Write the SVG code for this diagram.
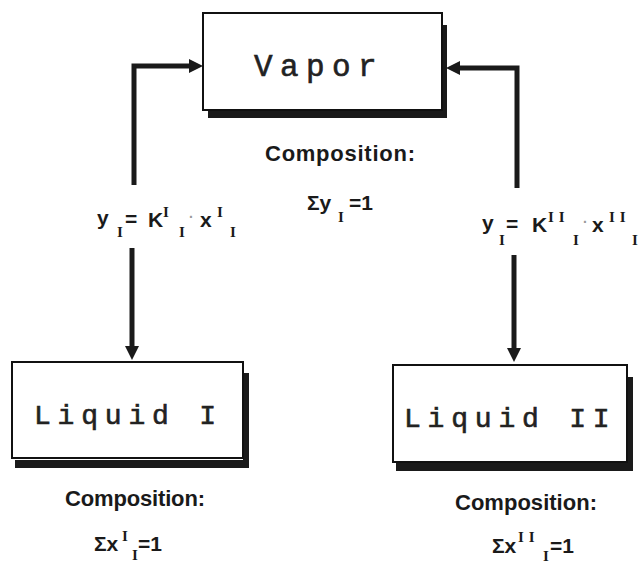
<svg xmlns="http://www.w3.org/2000/svg" width="641" height="564" viewBox="0 0 641 564">
<style>
.box{fill:#fff;stroke:#111;stroke-width:2}
.sh{fill:#1a1a1a}
.big{font-family:"Liberation Mono","DejaVu Sans Mono",monospace;fill:#222;stroke:#222;stroke-width:0.6}
.lbl{font-family:"Liberation Sans","DejaVu Sans",sans-serif;font-weight:bold;fill:#1a1a1a;font-size:21px}
.cmp{font-family:"Liberation Sans","DejaVu Sans",sans-serif;font-weight:bold;fill:#1a1a1a;font-size:22px}
.ii{font-family:"Liberation Serif","DejaVu Serif",serif;font-weight:bold;font-size:15px}
.dot{fill:#999;font-size:14px}
.conn{fill:none;stroke:#1a1a1a;stroke-width:5;stroke-linejoin:miter;stroke-linecap:butt}
</style>
<defs>
<marker id="ah" markerUnits="userSpaceOnUse" viewBox="0 0 14 14" markerWidth="14" markerHeight="14" refX="0" refY="7" orient="auto">
<path d="M0,0 L14,7 L0,14 z" fill="#1a1a1a"/>
</marker>
</defs>

<g id="connectors">
<path class="conn" d="M134,185 V66 H189" marker-end="url(#ah)"/>
<path class="conn" d="M517,188 V68 H460" marker-end="url(#ah)"/>
<path class="conn" d="M132,248 V346" marker-end="url(#ah)"/>
<path class="conn" d="M514,255 V348" marker-end="url(#ah)"/>
</g>

<g id="vapor">
<rect class="sh" x="442" y="25" width="5" height="93"/>
<rect class="sh" x="208" y="111" width="239" height="7"/>
<rect class="box" x="203" y="13" width="239" height="97"/>
<text class="big" x="254" y="76" font-size="31" letter-spacing="7.4">Vapor</text>
</g>

<g id="vapor-composition">
<text class="cmp" x="265" y="161" textLength="150">Composition:</text>
<text class="lbl" font-size="20" y="210"><tspan x="307">Σy</tspan><tspan class="ii" x="338" y="222">I</tspan><tspan x="349" y="210">=1</tspan></text>
</g>

<g id="liquid1">
<rect class="sh" x="243" y="373" width="6" height="95"/>
<rect class="sh" x="15" y="460" width="234" height="8"/>
<rect class="box" x="12" y="362" width="231" height="96"/>
<text class="big" x="34" y="424" font-size="28" letter-spacing="6.8">Liquid I</text>
</g>

<g id="liquid2">
<rect class="sh" x="627" y="377" width="6" height="94"/>
<rect class="sh" x="396" y="463" width="237" height="8"/>
<rect class="box" x="393" y="365" width="234" height="97"/>
<text class="big" x="404" y="427" font-size="28" letter-spacing="6.8">Liquid II</text>
</g>

<g id="label-left">
<text class="lbl" y="227"><tspan x="97" y="225">y</tspan><tspan class="ii" x="117" y="237">I</tspan><tspan x="125" y="226">=</tspan><tspan x="148" y="227">K</tspan><tspan class="ii" x="163" y="217">I</tspan><tspan class="ii" x="179" y="237">I</tspan><tspan class="dot" x="189" y="222">·</tspan><tspan x="200" y="227">x</tspan><tspan class="ii" x="217" y="217">I</tspan><tspan class="ii" x="230" y="237">I</tspan></text>
</g>

<g id="label-right">
<text class="lbl" y="232"><tspan x="482" y="230">y</tspan><tspan class="ii" x="499" y="245">I</tspan><tspan x="506" y="231">=</tspan><tspan x="532" y="232">K</tspan><tspan class="ii" x="548" y="222" letter-spacing="5">II</tspan><tspan class="ii" x="573" y="245">I</tspan><tspan class="dot" x="583" y="227">·</tspan><tspan x="592" y="232">x</tspan><tspan class="ii" x="609" y="222" letter-spacing="5">II</tspan><tspan class="ii" x="632" y="245">I</tspan></text>
</g>

<g id="liquid1-composition">
<text class="cmp" x="65" y="506" textLength="140">Composition:</text>
<text class="lbl" font-size="20" y="551"><tspan x="94">Σx</tspan><tspan class="ii" x="122" y="541">I</tspan><tspan class="ii" x="132" y="560">I</tspan><tspan x="138" y="551">=1</tspan></text>
</g>

<g id="liquid2-composition">
<text class="cmp" x="455" y="510" textLength="142">Composition:</text>
<text class="lbl" font-size="20" y="553"><tspan x="492">Σx</tspan><tspan class="ii" x="518" y="542" letter-spacing="5">II</tspan><tspan class="ii" x="543" y="561">I</tspan><tspan x="550" y="553">=1</tspan></text>
</g>
</svg>
